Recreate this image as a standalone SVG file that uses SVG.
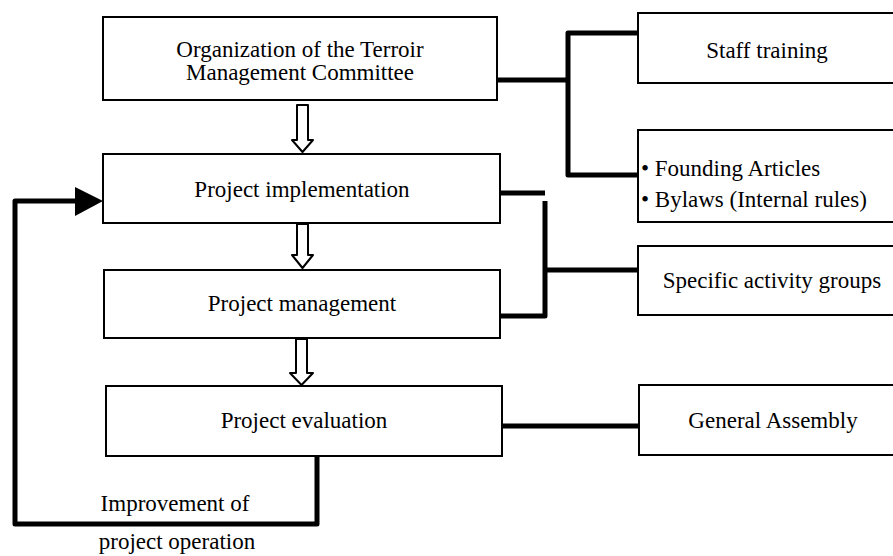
<svg xmlns="http://www.w3.org/2000/svg" width="893" height="556" viewBox="0 0 893 556">
  <style>
    .box { fill: #ffffff; stroke: #000000; stroke-width: 2; }
    .lbl { font-family: "Liberation Serif", "Times New Roman", serif; font-size: 23px; fill: #000000; }
    .mid { text-anchor: middle; }
    .wire { fill: none; stroke: #000000; stroke-width: 5; stroke-linejoin: round; stroke-linecap: butt; }
    .flow { fill: #ffffff; stroke: #000000; stroke-width: 2; stroke-linejoin: round; }
  </style>
  <rect x="0" y="0" width="893" height="556" fill="#ffffff"/>

  <!-- connectors -->
  <g id="connectors">
    <!-- committee bracket to staff training and founding articles -->
    <path class="wire" d="M497,80 H568"/>
    <path class="wire" d="M638,33 H568 V175 H638"/>
    <!-- implementation / management bracket to activity groups -->
    <path class="wire" d="M500,193 H545"/>
    <path class="wire" d="M545,201 V316 H500"/>
    <path class="wire" d="M545,270 H638"/>
    <!-- evaluation to general assembly -->
    <path class="wire" d="M502,426 H639"/>
    <!-- feedback loop -->
    <path class="wire" d="M317,456 V524 H15 V201 H77"/>
    <polygon points="75,187 103,201 75,216" fill="#000000"/>
    <!-- hollow flow arrows -->
    <path class="flow" d="M297,105 H308 V140 H313 L302.5,152 L292,140 H297 Z"/>
    <path class="flow" d="M297,224 H308 V255 H313 L302.5,268 L292,255 H297 Z"/>
    <path class="flow" d="M296,339 H307 V373 H313 L301.5,385 L290,373 H296 Z"/>
  </g>

  <g id="committee">
    <rect class="box" x="103" y="17" width="394" height="83"/>
    <text class="lbl mid" x="300" y="57">Organization of the Terroir</text>
    <text class="lbl mid" x="300" y="80">Management Committee</text>
  </g>

  <g id="implementation">
    <rect class="box" x="103" y="154" width="397" height="69"/>
    <text class="lbl mid" x="302" y="197">Project implementation</text>
  </g>

  <g id="management">
    <rect class="box" x="104" y="270" width="396" height="68"/>
    <text class="lbl mid" x="302" y="311">Project management</text>
  </g>

  <g id="evaluation">
    <rect class="box" x="106" y="386" width="396" height="70"/>
    <text class="lbl mid" x="304" y="428">Project evaluation</text>
  </g>

  <g id="staff-training">
    <rect class="box" x="638" y="13" width="270" height="70"/>
    <text class="lbl mid" x="767" y="58">Staff training</text>
  </g>

  <g id="founding-articles">
    <rect class="box" x="638" y="130" width="270" height="92"/>
    <text class="lbl" x="641" y="176">• Founding Articles</text>
    <text class="lbl" x="641" y="207">• Bylaws (Internal rules)</text>
  </g>

  <g id="activity-groups">
    <rect class="box" x="638" y="246" width="270" height="69"/>
    <text class="lbl mid" x="772" y="288">Specific activity groups</text>
  </g>

  <g id="general-assembly">
    <rect class="box" x="639" y="385" width="270" height="70"/>
    <text class="lbl mid" x="773" y="428">General Assembly</text>
  </g>

  <g id="feedback-label">
    <text class="lbl mid" x="175" y="511">Improvement of</text>
    <text class="lbl mid" x="177" y="549">project operation</text>
  </g>
</svg>
